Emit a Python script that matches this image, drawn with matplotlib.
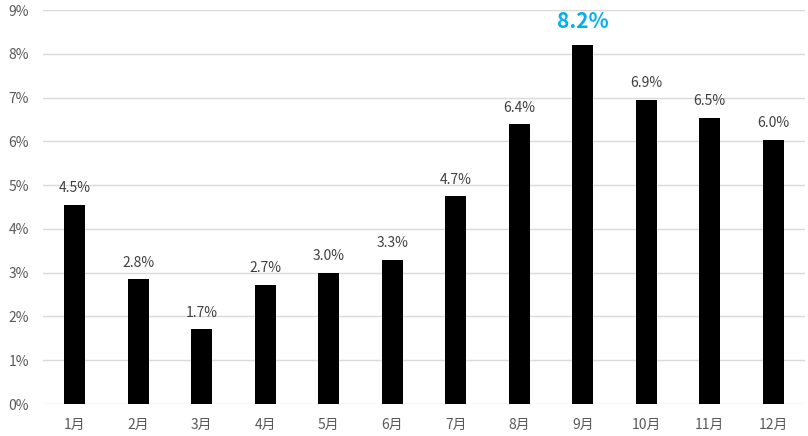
import matplotlib
matplotlib.use("Agg")
import matplotlib.pyplot as plt
from matplotlib.ticker import FuncFormatter

plt.rcParams['font.family'] = ['Noto Sans CJK JP', 'DejaVu Sans']

months = ["1月", "2月", "3月", "4月", "5月", "6月", "7月", "8月", "9月", "10月", "11月", "12月"]
values = [4.55, 2.85, 1.71, 2.72, 2.99, 3.29, 4.74, 6.39, 8.19, 6.95, 6.54, 6.04]
labels = ["4.5%", "2.8%", "1.7%", "2.7%", "3.0%", "3.3%", "4.7%", "6.4%", "8.2%", "6.9%", "6.5%", "6.0%"]
highlight = 8

fig = plt.figure(figsize=(8.08, 4.36), dpi=100)
ax = fig.add_axes([43/808, 32/436, 762/808, 394/436])

x = list(range(len(months)))
ax.bar(x, values, width=0.33, color="black", zorder=3)
ax.set_xlim(-0.5, len(months) - 0.5)
ax.set_ylim(0, 9)
ax.set_yticks(range(0, 10))
ax.yaxis.set_major_formatter(FuncFormatter(lambda v, p: f"{int(v)}%"))
ax.set_xticks(x)
ax.set_xticklabels(months)
ax.grid(axis="y", color="#d9d9d9", linewidth=1, zorder=0)
for s in ax.spines.values():
    s.set_visible(False)
ax.tick_params(length=0, colors="#595959", labelsize=10)
ax.tick_params(axis="y", pad=10)
ax.tick_params(axis="x", pad=10)

for i, (v, lab) in enumerate(zip(values, labels)):
    if i == highlight:
        ax.text(i, v + 0.3, lab, ha="center", va="bottom", color="#00b0f0",
                fontsize=15, fontweight="bold")
    else:
        ax.text(i, v + 0.22, lab, ha="center", va="bottom", color="#404040", fontsize=10)

fig.savefig("out.png", dpi=100)
